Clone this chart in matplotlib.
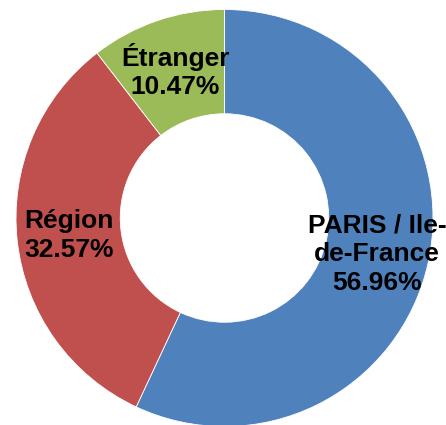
import matplotlib.pyplot as plt

# Donut chart - repartition des participants
labels = ['PARIS / Ile-\nde-France', 'Région', 'Étranger']
values = [56.96, 32.57, 10.47]
colors = ['#4F81BD', '#C0504D', '#9BBB59']
# label centres (data units, radius = 1)
label_pos = [(0.731, -0.175), (-0.746, -0.085), (-0.237, 0.705)]

plt.rcParams['font.family'] = ['Liberation Sans', 'DejaVu Sans']

fig = plt.figure(figsize=(4.46, 4.25), dpi=100)
ax = fig.add_axes([16 / 446, (425 - 426.5) / 425, 417 / 446, 417 / 425])

ax.pie(values, colors=colors, startangle=90, counterclock=False, radius=1,
       wedgeprops=dict(width=0.5, edgecolor='white', linewidth=0.6))

for lab, val, (x, y) in zip(labels, values, label_pos):
    ax.text(x, y, f'{lab}\n{val:.2f}%', ha='center', va='center',
            multialignment='center', fontsize=19, fontweight='bold',
            linespacing=1.25, color='black')

ax.set_xlim(-1, 1)
ax.set_ylim(-1, 1)
ax.set_aspect('equal')
ax.axis('off')

plt.savefig('out.png', dpi=100)
